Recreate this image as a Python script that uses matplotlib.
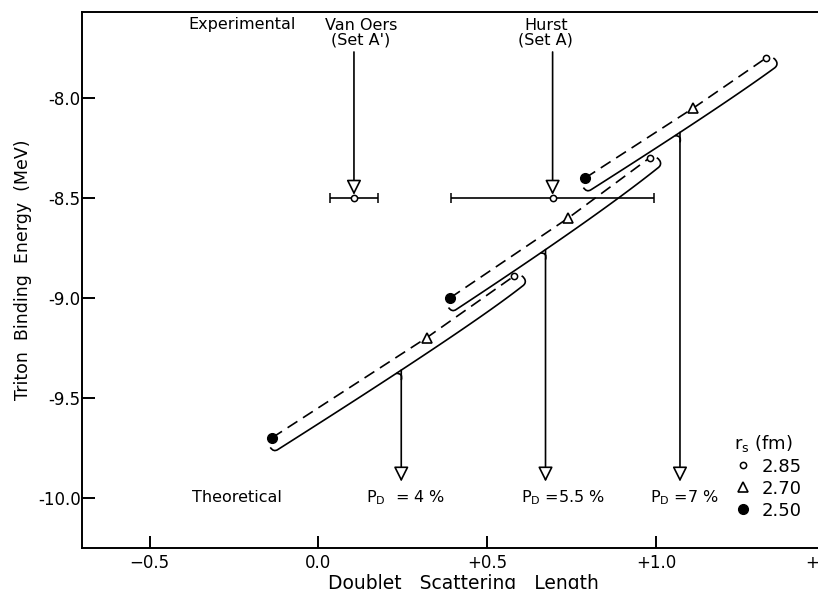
import numpy as np
import matplotlib.pyplot as plt
from matplotlib.path import Path
from matplotlib.patches import PathPatch
from matplotlib.transforms import IdentityTransform

plt.rcParams['font.family'] = ['DejaVu Sans']
plt.rcParams['mathtext.default'] = 'regular'

# theoretical points, one entry per calculation set (P_D = 4, 5.5, 7 %)
a_250 = [-0.137, 0.39, 0.79]
e_250 = [-9.70, -9.00, -8.40]
a_270 = [0.32, 0.74, 1.11]
e_270 = [-9.20, -8.60, -8.05]
a_285 = [0.58, 0.98, 1.325]
e_285 = [-8.89, -8.30, -7.80]

pd_text = ['P$_D$  = 4 %', 'P$_D$ =5.5 %', 'P$_D$ =7 %']
pd_a = [0.245, 0.672, 1.07]
pd_tip = -9.92

# experimental values
exp_name = ["Van Oers\n(Set A')", 'Hurst\n(Set A)']
exp_a = [0.105, 0.693]
exp_da = [0.07, 0.30]
exp_e = [-8.50, -8.50]

rs_label = ['2.85', '2.70', '2.50']

xticks = [-0.5, 0.0, 0.5, 1.0, 1.5]
xticklabels = ['\u22120.5', '0.0', '+0.5', '+1.0', '+1.5']
yticks = [-8.0, -8.5, -9.0, -9.5, -10.0]
yticklabels = ['-8.0', '-8.5', '-9.0', '-9.5', '-10.0']

fig = plt.figure(figsize=(8.18, 5.89), dpi=100)
ax = fig.add_axes([82 / 818, 41 / 589, 750 / 818, 536 / 589])
ax.set_xlim(-0.70, 1.52)
ax.set_ylim(-10.252, -7.570)

for s in ax.spines.values():
    s.set_linewidth(1.4)
ax.spines['right'].set_visible(False)
ax.set_xticks(xticks)
ax.set_xticklabels(xticklabels)
ax.set_yticks(yticks)
ax.set_yticklabels(yticklabels)
ax.tick_params(direction='in', length=9, width=1.4, labelsize=12)
ax.tick_params(axis='y', pad=1)
ax.tick_params(axis='x', pad=4)

lw = 1.2
T = ax.transData
t = np.linspace(0, 1, 60)[:, None]
for i in range(3):
    xs = [a_250[i], a_270[i], a_285[i]]
    ys = [e_250[i], e_270[i], e_285[i]]
    ax.plot(xs, ys, color='k', lw=lw, ls=(0, (7, 4)), zorder=2)

    # solid bracket below the dashed curve
    p0, pm, p1 = T.transform(np.column_stack([xs, ys]))
    u = (p1 - p0) / np.hypot(*(p1 - p0))
    n = np.array([u[1], -u[0]])
    d = 13
    a0 = p0 + d * n - 2 * u
    a1 = p1 + d * n + 1 * u
    c = 2 * (pm + d * n) - 0.5 * (a0 + a1)
    body = (1 - t) ** 2 * a0 + 2 * t * (1 - t) * c + t ** 2 * a1
    verts = [p0 + 7 * n - 7 * u, p0 + d * n - 7 * u] + list(body) + \
            [p1 + d * n + 6 * u, p1 + 9 * n + 8 * u, p1 + 4 * n + 6 * u]
    codes = [Path.MOVETO, Path.CURVE3] + [Path.CURVE3] + [Path.LINETO] * (len(body) - 1) + \
            [Path.CURVE4] * 3
    ax.add_patch(PathPatch(Path(verts, codes), fill=False, ec='k', lw=lw,
                           transform=IdentityTransform(), zorder=2))

    # P_D arrow hanging from the solid line
    px = T.transform((pd_a[i], 0))[0]
    py = np.interp(px, body[:, 0], body[:, 1])
    yb = T.inverted().transform((px, py))[1]
    shoulder = [(px - 5, np.interp(px - 5, body[:, 0], body[:, 1])), (px + 2, py - 3), (px, py - 10)]
    ax.add_patch(PathPatch(Path(shoulder, [Path.MOVETO, Path.CURVE3, Path.CURVE3]),
                           fill=False, ec='k', lw=lw, transform=IdentityTransform()))
    ax.annotate('', xy=(pd_a[i], pd_tip), xytext=(pd_a[i], yb),
                arrowprops=dict(arrowstyle='-|>,head_length=0.9,head_width=0.45',
                                fc='white', ec='k', lw=lw, shrinkA=0, shrinkB=0))

h285, = ax.plot(a_285, e_285, 'o', ms=4.5, mfc='white', mec='k', mew=1.1, ls='none', zorder=3)
h270, = ax.plot(a_270, e_270, '^', ms=7, mfc='white', mec='k', mew=1.2, ls='none', zorder=3)
h250, = ax.plot(a_250, e_250, 'o', ms=7, mfc='k', mec='k', ls='none', zorder=3)

# experimental points
ax.errorbar(exp_a, exp_e, xerr=exp_da, fmt='o', ms=4.5, mfc='white', mec='k', mew=1.1,
            ecolor='k', elinewidth=lw, capsize=3.5, capthick=lw, zorder=3)
for i in range(2):
    ax.annotate('', xy=(exp_a[i], exp_e[i] + 0.015), xytext=(exp_a[i], -7.77),
                arrowprops=dict(arrowstyle='-|>,head_length=0.9,head_width=0.45',
                                fc='white', ec='k', lw=lw, shrinkA=0, shrinkB=0))
ax.text(exp_a[0] + 0.02, -7.672, exp_name[0], ha='center', va='center', fontsize=11.5, linespacing=0.95)
ax.text(exp_a[1] - 0.02, -7.672, exp_name[1], ha='center', va='center', fontsize=11.5, linespacing=0.95)
ax.text(-0.225, -7.633, 'Experimental', ha='center', va='center', fontsize=11.5)

ax.text(-0.240, -10.0, 'Theoretical', ha='center', va='center', fontsize=11.5)
pd_cx = [0.258, 0.725, 1.082]
for i in range(3):
    ax.text(pd_cx[i], -10.0, pd_text[i], ha='center', va='center', fontsize=11.5)

leg = ax.legend([h285, h270, h250], rs_label, title='r$_s$ (fm)', loc='upper left',
                bbox_to_anchor=(0.869, 0.215), frameon=False, fontsize=13,
                title_fontsize=13, handlelength=1.0, handletextpad=0.55,
                labelspacing=0.22, borderpad=0, borderaxespad=0, alignment='left')

ax.set_xlabel('Doublet   Scattering   Length', fontsize=13.5)
ax.xaxis.set_label_coords(0.509, -0.0485)
ax.set_ylabel('Triton  Binding  Energy  (MeV)', fontsize=12.5)
ax.yaxis.set_label_coords(-0.0667, 0.519)

fig.savefig('out.png', dpi=100)
